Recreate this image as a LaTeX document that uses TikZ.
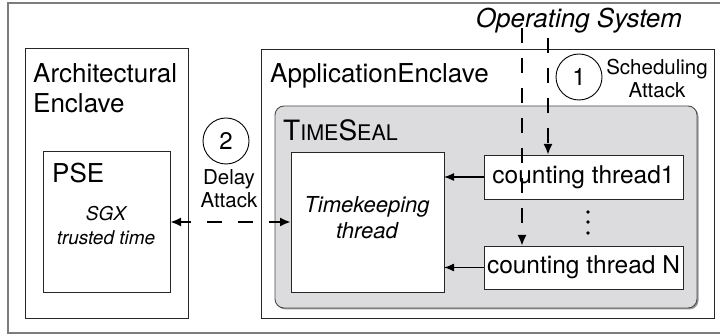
\documentclass[tikz,border=0pt]{standalone}
\usepackage{fontspec}
\setmainfont{TeX Gyre Heros}
\usetikzlibrary{arrows.meta}
\definecolor{framegray}{HTML}{7C7C7C}
\definecolor{sealgray}{HTML}{DCDCDE}
\definecolor{shadowgray}{HTML}{9A9A9A}
\begin{document}
\begin{tikzpicture}[x=1pt,y=-1pt,
  boxline/.style={draw=black!85, line width=0.9pt, inner sep=0pt, outer sep=0pt, anchor=north west},
  bigtext/.style={font=\fontsize{26}{30}\selectfont, inner sep=0pt, align=left, anchor=north west},
  threadtext/.style={font=\fontsize{24.5}{28}\selectfont},
  smalltext/.style={font=\fontsize{20.5}{23}\selectfont, inner sep=0pt, align=center},
  badge/.style={draw=black, line width=0.9pt, circle, fill=white, inner sep=0pt, minimum size=46pt, font=\fontsize{24}{26}\selectfont},
  attack/.style={line width=2.6pt, dash pattern=on 15pt off 15pt, -{Latex[length=11pt,width=9pt]}},
  feed/.style={line width=1.3pt, -{Latex[length=10pt,width=8pt]}}
]
\useasboundingbox (0,0) rectangle (720,336);
\fill[white] (0,0) rectangle (720,336);

% outer frame: the whole platform
\draw[framegray, line width=2pt] (8,3) rectangle (724,333);

% architectural enclave with the platform service enclave inside
\node[boxline, minimum width=163pt, minimum height=270pt] (arch) at (25,48) {};
\node[bigtext] (archlabel) at (33,63) {Architectural\\Enclave};
\node[boxline, minimum width=127pt, minimum height=141pt] (pse) at (43,151) {};
\node[bigtext] (pselabel) at (52,163) {PSE};
\node[font=\fontsize{19}{24}\selectfont\itshape, align=center, inner sep=0pt] (sgx) at (106,226) {SGX\\trusted time};

% application enclave
\node[boxline, minimum width=453pt, minimum height=269pt] (app) at (261,49) {};
\node[bigtext] (applabel) at (270,63) {ApplicationEnclave};

% TimeSeal container
\fill[shadowgray, rounded corners=9pt] (276.5,107.5) rectangle (698.5,309.5);
\node[boxline, fill=sealgray, rounded corners=9pt, minimum width=422pt, minimum height=202pt, draw=black!70] (seal) at (275,106) {};
\node[inner sep=0pt, anchor=north west] (seallabel) at (283,119)
  {\fontsize{28}{30}\selectfont T\fontsize{21.5}{30}\selectfont IME\fontsize{28}{30}\selectfont S\fontsize{21.5}{30}\selectfont EAL};

% threads
\node[boxline, fill=white, minimum width=153pt, minimum height=140pt] (tk) at (291,152) {};
\node[font=\fontsize{22}{26}\selectfont\itshape, align=center, inner sep=0pt] (tklabel) at (367,218) {Timekeeping\\thread};
\node[boxline, fill=white, minimum width=199pt, minimum height=44pt] (ct1) at (484,155) {};
\node[threadtext] (ct1label) at (ct1.center) {counting thread1};
\node[boxline, fill=white, minimum width=199pt, minimum height=43pt] (ctN) at (484,246) {};
\node[threadtext] (ctNlabel) at (ctN.center) {counting thread N};
\foreach \yy/\nm in {212/d1,222/d2,233/d3}
  \fill (588,\yy) circle (1.9pt) coordinate (\nm);

% counting threads report to the timekeeping thread
\draw[feed] (ct1.west) -- (ct1.west -| tk.east);
\draw[feed] (ctN.west) -- (ctN.west -| tk.east);

% operating system and its scheduling attack
\node[font=\fontsize{26}{30}\selectfont\itshape, inner sep=0pt] (os) at (579,21) {Operating System};
\coordinate (osA) at (522,28);
\coordinate (osB) at (548,38);
\draw[attack] (osA) -- (osA |- ctN.north);
\draw[attack] (osB) -- (osB |- ct1.north);
\node[badge] (one) at (579,77) {1};
\node[smalltext, fill=white, inner sep=0.5pt] (sched) at (657,79) {Scheduling\\Attack};

% delay attack between the enclaves
\draw[line width=2.6pt, dash pattern=on 15pt off 16pt, dash phase=4pt, {Latex[length=11pt,width=9pt]}-{Latex[length=11pt,width=9pt]}] (pse.east |- tk.west) -- (tk.west);
\node[badge] (two) at (226,141) {2};
\node[smalltext] (delay) at (229,189) {Delay\\Attack};
\end{tikzpicture}
\end{document}
